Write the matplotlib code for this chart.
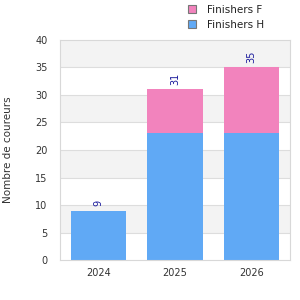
import numpy as np
import matplotlib.pyplot as plt

years = ["2024", "2025", "2026"]
finishers_h = [9, 23, 23]
finishers_f = [0, 8, 12]

col_h = "#60a9f5"
col_f = "#f283bd"

fig = plt.figure(figsize=(3, 3), dpi=100)
ax = fig.add_axes([0.2, 0.133, 0.767, 0.734])

# alternating bands
for lo in range(0, 40, 5):
    if (lo // 5) % 2 == 1:
        ax.axhspan(lo, lo + 5, color="#f3f3f3", zorder=0, lw=0)
for v in range(5, 40, 5):
    ax.axhline(v, color="#dddddd", lw=0.8, zorder=0.5)

x = np.arange(len(years))
h = np.array(finishers_h)
f = np.array(finishers_f)
ax.bar(x, h, width=0.72, color=col_h, zorder=2, label="Finishers H")
ax.bar(x, f, width=0.72, bottom=h, color=col_f, zorder=2, label="Finishers F")

tot = h + f
for xi, t in zip(x, tot):
    ax.text(xi, t + 0.8, str(t), rotation=90, ha="center", va="bottom",
            fontsize=7, color="#1a1a9c", zorder=3)

ax.set_xlim(-0.5, 2.5)
ax.set_ylim(0, 40)
ax.set_yticks(range(0, 41, 5))
ax.set_xticks(x)
ax.set_xticklabels(years)
ax.tick_params(axis="both", length=0, labelsize=7, labelcolor="#333333")
ax.tick_params(axis="x", pad=6)
ax.tick_params(axis="y", pad=9)
for s in ax.spines.values():
    s.set_color("#d8d8d8")
    s.set_linewidth(0.8)
ax.set_ylabel("Nombre de coureurs", fontsize=7.5, color="#333333", labelpad=16)

handles, labels = ax.get_legend_handles_labels()
leg = fig.legend(handles[::-1], labels[::-1], loc="upper left",
                 bbox_to_anchor=(0.595, 1.015), frameon=False, fontsize=7.5,
                 handlelength=0.8, handleheight=0.8, handletextpad=1.0,
                 labelspacing=0.45)
for p in leg.get_patches():
    p.set_edgecolor("#777777")
    p.set_linewidth(0.8)
for t in leg.get_texts():
    t.set_color("#222222")

fig.savefig("out.png", dpi=100)
